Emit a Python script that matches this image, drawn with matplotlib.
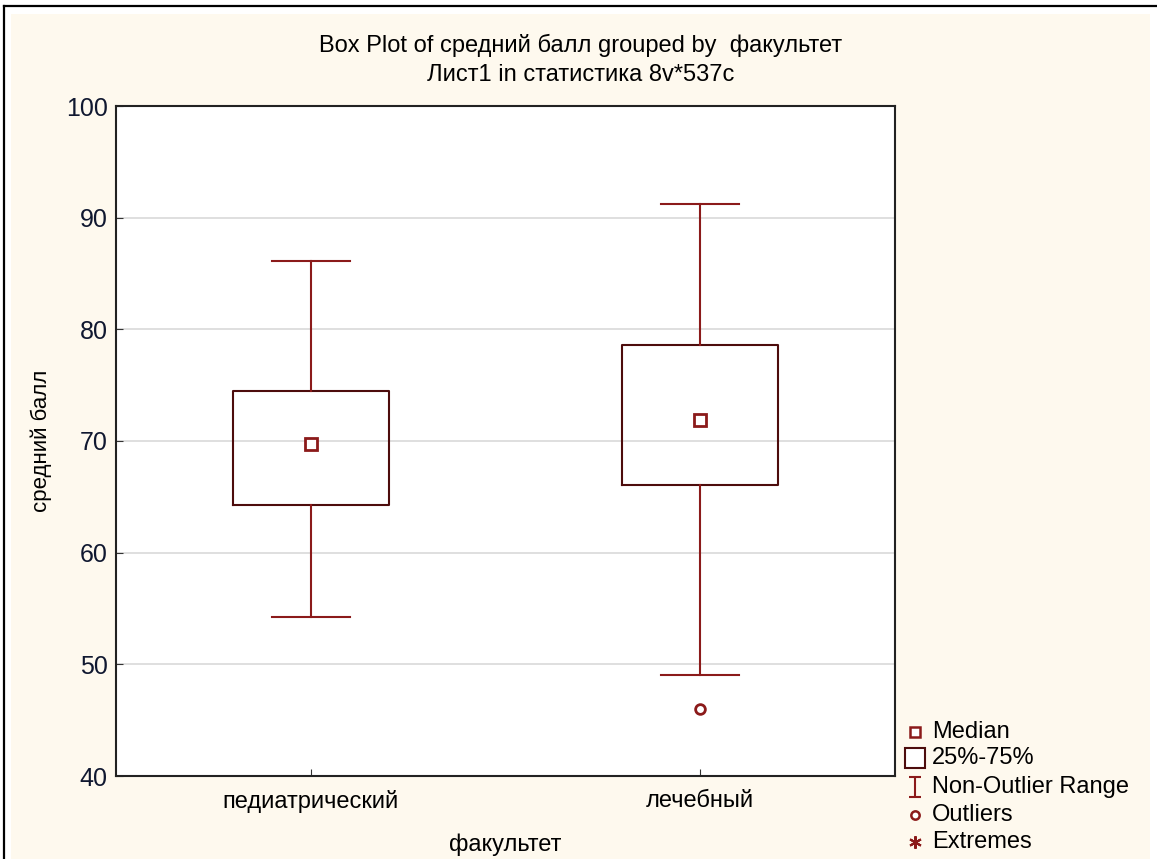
import matplotlib
matplotlib.use("Agg")
import matplotlib.pyplot as plt
from matplotlib.lines import Line2D
from matplotlib.patches import Rectangle
from matplotlib.path import Path

plt.rcParams["font.family"] = ["Liberation Sans", "DejaVu Sans"]

# box plot statistics
groups = ["педиатрический", "лечебный"]
medians = [69.7, 71.9]
q1 = [64.3, 66.1]
q3 = [74.5, 78.6]
whisk_lo = [54.2, 49.0]
whisk_hi = [86.1, 91.2]
outliers = [[], [46.0]]

legend_names = ["Median", "25%-75%", "Non-Outlier Range", "Outliers", "Extremes"]

RED = "#8b1a1a"
EDGE = "#4d0c0c"
W, H = 1157, 859

fig = plt.figure(figsize=(W / 100, H / 100), dpi=100)
fig.patch.set_facecolor("white")

# cream panel and the black frame lines of the window
fig.add_artist(Rectangle((11 / W, 0), 1139 / W, 1 - 14 / H,
                         transform=fig.transFigure, facecolor="#fef9ee",
                         edgecolor="none", zorder=-10))
fig.add_artist(Line2D([4 / W, 4 / W], [0, 1 - 6 / H],
                      transform=fig.transFigure, color="black", lw=1.6))
fig.add_artist(Line2D([4 / W, 1], [1 - 6 / H, 1 - 6 / H],
                      transform=fig.transFigure, color="black", lw=1.6))

ax = fig.add_axes([116 / W, 1 - 776 / H, 779 / W, 670 / H])
ax.set_facecolor("white")

stats = []
for i, name in enumerate(groups):
    stats.append({"label": name, "med": medians[i], "q1": q1[i], "q3": q3[i],
                  "whislo": whisk_lo[i], "whishi": whisk_hi[i],
                  "fliers": outliers[i]})

pos = [1, 2]
ax.bxp(stats, positions=pos, widths=0.4, showfliers=True,
       boxprops=dict(color=EDGE, lw=1.5),
       whiskerprops=dict(color=RED, lw=1.5),
       capprops=dict(color=RED, lw=1.5),
       capwidths=0.2,
       medianprops=dict(visible=False),
       flierprops=dict(marker="o", markersize=7, markerfacecolor="white",
                       markeredgecolor=RED, markeredgewidth=2))
ax.plot(pos, medians, ls="none", marker="s", markersize=8,
        markerfacecolor="white", markeredgecolor=RED, markeredgewidth=2)

ax.set_xlim(0.5, 2.5)
ax.set_ylim(40, 100)
ax.set_yticks(range(40, 101, 10))
ax.set_xticks(pos)
ax.set_xticklabels(groups)
ax.tick_params(axis="both", direction="in", length=5, color="#333333")
ax.tick_params(axis="y", pad=6, labelsize=18, labelcolor="#101830")
ax.tick_params(axis="x", pad=10, labelsize=17)
ax.grid(axis="y", color="#d9d9d9", lw=1.2)
ax.set_axisbelow(True)
for s in ax.spines.values():
    s.set_color("#222222")
    s.set_linewidth(1.5)

ax.set_xlabel("факультет", fontsize=17, labelpad=15)
ax.set_ylabel("средний балл", fontsize=16, labelpad=10)
fig.text(581 / W, 1 - 45 / H, "Box Plot of средний балл grouped by  факультет",
         ha="center", va="center", fontsize=17)
fig.text(581 / W, 1 - 75 / H, "Лист1 in статистика 8v*537c",
         ha="center", va="center", fontsize=17)

# legend explaining the symbols, placed row by row
range_marker = Path([(-0.6, -1), (0.6, -1), (0, -1), (0, 1), (-0.6, 1), (0.6, 1)],
                    [Path.MOVETO, Path.LINETO, Path.MOVETO, Path.LINETO,
                     Path.MOVETO, Path.LINETO])
marker_styles = [
    dict(marker="s", markersize=7, markerfacecolor="white",
         markeredgecolor=RED, markeredgewidth=1.8),
    dict(marker="s", markersize=14, markerfacecolor="white",
         markeredgecolor=EDGE, markeredgewidth=1.5),
    dict(marker=range_marker, markersize=15, markerfacecolor="none",
         markeredgecolor=RED, markeredgewidth=1.5),
    dict(marker="o", markersize=6, markerfacecolor="white",
         markeredgecolor=RED, markeredgewidth=1.8),
    dict(marker=(6, 2, 0), markersize=9, markeredgecolor=RED,
         markeredgewidth=1.5),
]
row_y = [732, 758, 787, 815, 842]
for name, style, y in zip(legend_names, marker_styles, row_y):
    fig.add_artist(Line2D([915 / W], [1 - y / H], ls="none",
                          transform=fig.transFigure, **style))
    fig.text(932 / W, 1 - y / H, name, ha="left", va="center", fontsize=17)

fig.savefig("out.png", dpi=100)
